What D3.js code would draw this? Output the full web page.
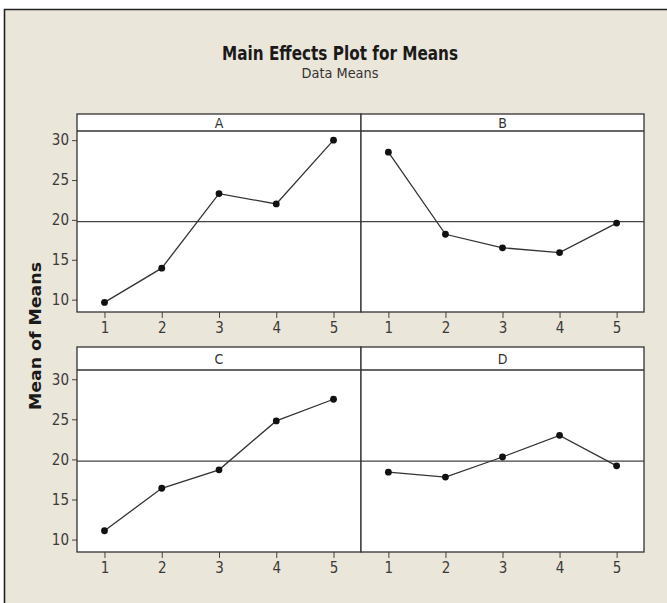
<!DOCTYPE html>
<html>
<head>
<meta charset="utf-8">
<script src="https://cdn.jsdelivr.net/npm/d3@7"></script>
<style>
  html, body { margin: 0; padding: 0; background: #fff; }
  svg text { font-family: "DejaVu Sans", Verdana, sans-serif; }
</style>
</head>
<body>
<svg id="chart" width="667" height="603"></svg>
<script>
// factor levels and means
const levels = [1, 2, 3, 4, 5];
const factors = ["A", "B", "C", "D"];
const meansA = [9.65, 13.95, 23.3, 22.0, 30.0];
const meansB = [28.5, 18.2, 16.5, 15.9, 19.6];
const meansC = [11.1, 16.4, 18.7, 24.8, 27.5];
const meansD = [18.4, 17.8, 20.3, 23.0, 19.2];
const yTicks = [10, 15, 20, 25, 30];
const grandMean = 19.78;

const seriesByFactor = { A: meansA, B: meansB, C: meansC, D: meansD };

const svg = d3.select("#chart");
const W = 667, H = 603;

// background + frame
svg.append("rect").attr("width", W).attr("height", H).style("fill", "#ffffff");
svg.append("rect")
  .attr("x", 4).attr("y", 9).attr("width", W - 4).attr("height", H - 9)
  .style("fill", "#ebe6da");
svg.append("path")
  .attr("d", `M4.5,${H} L4.5,9.5 L${W},9.5`)
  .style("fill", "none").style("stroke", "#222").style("stroke-width", 1.6);

// titles
svg.append("text")
  .attr("x", 340).attr("y", 60)
  .attr("text-anchor", "middle")
  .style("font-size", "19px").style("font-weight", "bold")
  .style("fill", "#1a1a1a")
  .attr("textLength", 236).attr("lengthAdjust", "spacingAndGlyphs")
  .text("Main Effects Plot for Means");
svg.append("text")
  .attr("x", 340).attr("y", 78)
  .attr("text-anchor", "middle")
  .style("font-size", "14px")
  .style("fill", "#333")
  .attr("textLength", 77).attr("lengthAdjust", "spacingAndGlyphs")
  .text("Data Means");

// y label
svg.append("text")
  .attr("transform", "translate(41,336) rotate(-90)")
  .attr("text-anchor", "middle")
  .style("font-size", "15px").style("font-weight", "bold")
  .style("fill", "#1a1a1a")
  .attr("textLength", 148).attr("lengthAdjust", "spacingAndGlyphs")
  .text("Mean of Means");

// panel layout
const cols = [77, 361, 644];
const rows = [
  { stripTop: 114, plotTop: 131, plotBottom: 312 },
  { stripTop: 347, plotTop: 370, plotBottom: 552 }
];
const yDomain = [8.45, 31.15];

function styleTicks(sel) {
  sel.selectAll("text")
    .style("font-size", "15px").style("fill", "#3a3a3a")
    .style("font-family", "'DejaVu Sans Condensed', 'Liberation Sans Narrow', 'DejaVu Sans', sans-serif")
    .attr("transform", function () { return null; });
}

factors.forEach((f, i) => {
  const col = i % 2, row = Math.floor(i / 2);
  const x0 = cols[col], x1 = cols[col + 1];
  const r = rows[row];

  const x = d3.scaleLinear().domain([0.52, 5.48]).range([x0, x1]);
  const y = d3.scaleLinear().domain(yDomain).range([r.plotBottom, r.plotTop]);
  const g = svg.append("g");

  // strip + plot area
  g.append("rect")
    .attr("x", x0).attr("y", r.stripTop)
    .attr("width", x1 - x0).attr("height", r.plotBottom - r.stripTop)
    .style("fill", "#fff");

  // reference line at grand mean
  g.append("line")
    .attr("x1", x0).attr("x2", x1)
    .attr("y1", y(grandMean)).attr("y2", y(grandMean))
    .style("stroke", "#444").style("stroke-width", 1.4);

  // x axis
  const xAxis = g.append("g")
    .attr("transform", `translate(0,${r.plotBottom})`)
    .call(d3.axisBottom(x).tickValues(levels).tickFormat(d3.format("d"))
      .tickSize(6).tickPadding(4));
  xAxis.select(".domain").remove();
  xAxis.selectAll("line").style("stroke", "#444");
  styleTicks(xAxis);

  // y axis only on left column
  if (col === 0) {
    const yAxis = g.append("g")
      .attr("transform", `translate(${x0},0)`)
      .call(d3.axisLeft(y).tickValues(yTicks).tickFormat(d3.format("d"))
        .tickSize(5).tickPadding(3));
    yAxis.select(".domain").remove();
    yAxis.selectAll("line").style("stroke", "#444");
    styleTicks(yAxis);
  }

  // line + points
  const pts = levels.map((lv, k) => ({ lv, v: seriesByFactor[f][k] }));
  g.append("path")
    .datum(pts)
    .attr("d", d3.line().x(d => x(d.lv)).y(d => y(d.v)))
    .style("fill", "none").style("stroke", "#333").style("stroke-width", 1.3);
  g.selectAll("circle")
    .data(pts)
    .join("circle")
    .attr("cx", d => x(d.lv)).attr("cy", d => y(d.v)).attr("r", 3.4)
    .style("fill", "#111");

  // strip label
  g.append("text")
    .attr("x", (x0 + x1) / 2)
    .attr("y", (r.stripTop + r.plotTop) / 2 + 5)
    .attr("text-anchor", "middle")
    .style("font-size", "14px").style("fill", "#333")
    .style("font-family", "'DejaVu Sans Condensed', 'Liberation Sans Narrow', 'DejaVu Sans', sans-serif")
    .text(f);

  // borders
  g.append("line")
    .attr("x1", x0).attr("x2", x1)
    .attr("y1", r.plotTop).attr("y2", r.plotTop)
    .style("stroke", "#333").style("stroke-width", 1.6);
  g.append("rect")
    .attr("x", x0).attr("y", r.stripTop)
    .attr("width", x1 - x0).attr("height", r.plotBottom - r.stripTop)
    .style("fill", "none").style("stroke", "#333").style("stroke-width", 1.3);
});
</script>
</body>
</html>
